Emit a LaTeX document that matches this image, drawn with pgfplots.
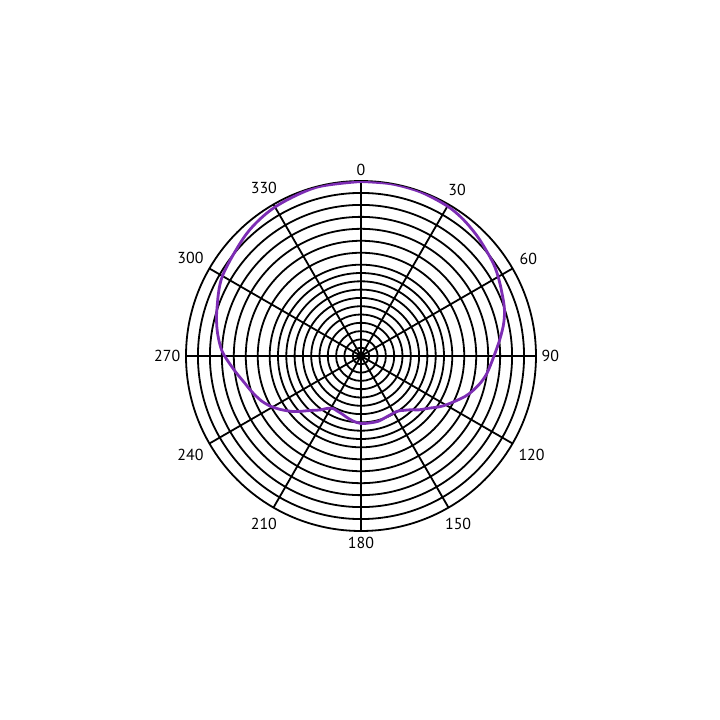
\documentclass[border=0pt]{standalone}
\usepackage{fontspec}
\setmainfont{PT Sans}
\usepackage{pgfplots}
\pgfplotsset{compat=1.18}
\usepgfplotslibrary{polar}
\usepackage{pgfplotstable}
\definecolor{curve}{RGB}{125,45,180}
\pgfplotstableread{
theta r
0 174.5
10 174.8
20 174.5
30 173
37 170.5
45 166.5
55 161.5
62 157
71 151.5
77 146.5
83 140
90 133
98 127
104 121
111 112
121 96.5
128 85
133 79
137 73.5
142 69
147 66
157 66
165 67.5
172 67.5
180 67.5
187 65.5
193 63
198 61
203 60
208 59.5
213 62.5
217 67.5
223 74.5
230 86.5
236 96
241 103.5
246 109.5
252 115
257 119.5
264 128
272 139
280 146
288 151.5
300 160
317 167.5
330 172
345 174.5
360 174.5
}\curvedata
\begin{document}
\begin{tikzpicture}
\path[use as bounding box] (-361bp,-364bp) rectangle (359bp,356bp);
\begin{polaraxis}[
  at={(0,0)}, anchor=center,
  scale only axis, width=350bp, height=350bp,
  ymin=0, ymax=175,
  xtick={0,30,...,330},
  xticklabels={90,60,30,0,330,300,270,240,210,180,150,120},
  ytick={8.3,16.6,24.9,33.2,41.5,49.8,58.1,66.4,74.7,83.0,91.3,103.26,115.22,127.18,139.14,151.1,163.06},
  yticklabels={},
  xtick style={draw=none}, ytick style={draw=none},
  grid=major,
  major grid style={black, line width=1.8bp},
  axis line style={black, line width=1.8bp},
  /pgf/number format/assume math mode=true,
  xticklabel style={font=\fontsize{16}{16}\selectfont, text=black, inner sep=5.5bp},
]
\addplot[curve, line width=2.8bp, smooth, tension=0.5] table[x expr={90-\thisrow{theta}}, y=r] {\curvedata};
\end{polaraxis}
\end{tikzpicture}
\end{document}
